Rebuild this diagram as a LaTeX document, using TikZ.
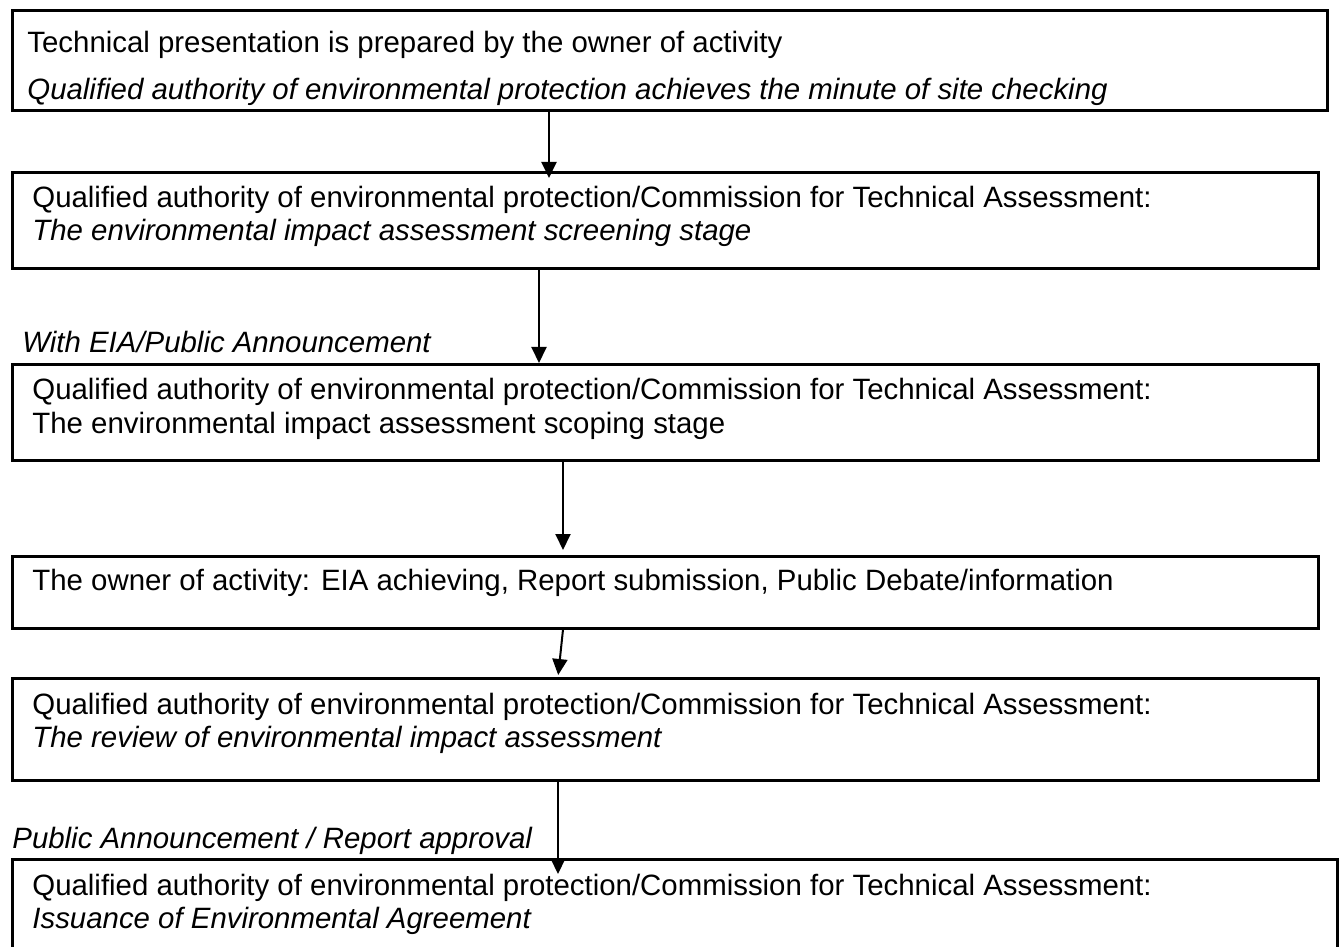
\documentclass[tikz,border=0pt]{standalone}
\usepackage{fontspec}
\setmainfont{Liberation Sans}
\usetikzlibrary{arrows.meta}

\begin{document}
\begin{tikzpicture}[x=0.5pt,y=-0.5pt,
    box/.style={draw, line width=1.3pt, inner sep=0pt, anchor=north west},
    txt/.style={inner sep=0pt, anchor=base west, font=\fontsize{14.7pt}{17pt}\selectfont},
    note/.style={txt, font=\fontsize{14.7pt}{17pt}\selectfont\itshape},
    flow/.style={-{Triangle[length=8pt,width=7.5pt]}, line width=1pt}]
  \useasboundingbox (0,0) rectangle (1341,947);
  \clip (0,0) rectangle (1341,947);

  % stages
  \node[box, line width=1.5pt, minimum width=657.5pt, minimum height=50pt] (b1) at (11,9) {};
  \node[box, minimum width=653pt, minimum height=48pt] (b2) at (11,171) {};
  \node[box, minimum width=653pt, minimum height=48pt] (b3) at (11,363) {};
  \node[box, minimum width=653pt, minimum height=36pt] (b4) at (11,555) {};
  \node[box, minimum width=653pt, minimum height=51pt] (b5) at (11,677) {};
  \node[box, minimum width=662.5pt, minimum height=60pt] (b6) at (11,858) {};

  \node[txt] (t1a) at ([shift={(16,44)}]b1.north west) {Technical presentation is prepared by the owner of activity};
  \node[note] (t1b) at ([shift={(16,91)}]b1.north west) {Qualified authority of environmental protection achieves the minute of site checking};
  \node[txt] (t2a) at ([shift={(21,37)}]b2.north west) {Qualified authority of environmental protection/Commission for Technical Assessment:};
  \node[note] (t2b) at ([shift={(21,70)}]b2.north west) {The environmental impact assessment screening stage};
  \node[txt] (t3a) at ([shift={(21,37)}]b3.north west) {Qualified authority of environmental protection/Commission for Technical Assessment:};
  \node[txt] (t3b) at ([shift={(21,70)}]b3.north west) {The environmental impact assessment scoping stage};
  \node[txt] (t4a) at ([shift={(21,35)}]b4.north west) {The owner of activity: EIA achieving, Report submission, Public Debate/information};
  \node[txt] (t5a) at ([shift={(21,37)}]b5.north west) {Qualified authority of environmental protection/Commission for Technical Assessment:};
  \node[note] (t5b) at ([shift={(21,70)}]b5.north west) {The review of environmental impact assessment};
  \node[txt] (t6a) at ([shift={(21,37)}]b6.north west) {Qualified authority of environmental protection/Commission for Technical Assessment:};
  \node[note] (t6b) at ([shift={(21,70)}]b6.north west) {Issuance of Environmental Agreement};

  % labels on the arrows
  \node[note] (l1) at (22,352) {With EIA/Public Announcement};
  \node[note] (l2) at (12,848) {Public Announcement / Report approval};

  \coordinate (x1) at (549,0);
  \coordinate (x2) at (539,0);
  \coordinate (x3) at (563,0);
  \coordinate (x5) at (558,0);
  \draw[flow, shorten >=-3.5pt] (b1.south -| x1) -- (b2.north -| x1);
  \draw[flow] (b2.south -| x2) -- (b3.north -| x2);
  \draw[flow, shorten >=2.5pt] (b3.south -| x3) -- (b4.north -| x3);
  \draw[flow, shorten >=1pt] (b4.south -| x3) -- (b5.north -| x5);
  \draw[flow, shorten >=-8pt] (b5.south -| x5) -- (b6.north -| x5);
\end{tikzpicture}
\end{document}
